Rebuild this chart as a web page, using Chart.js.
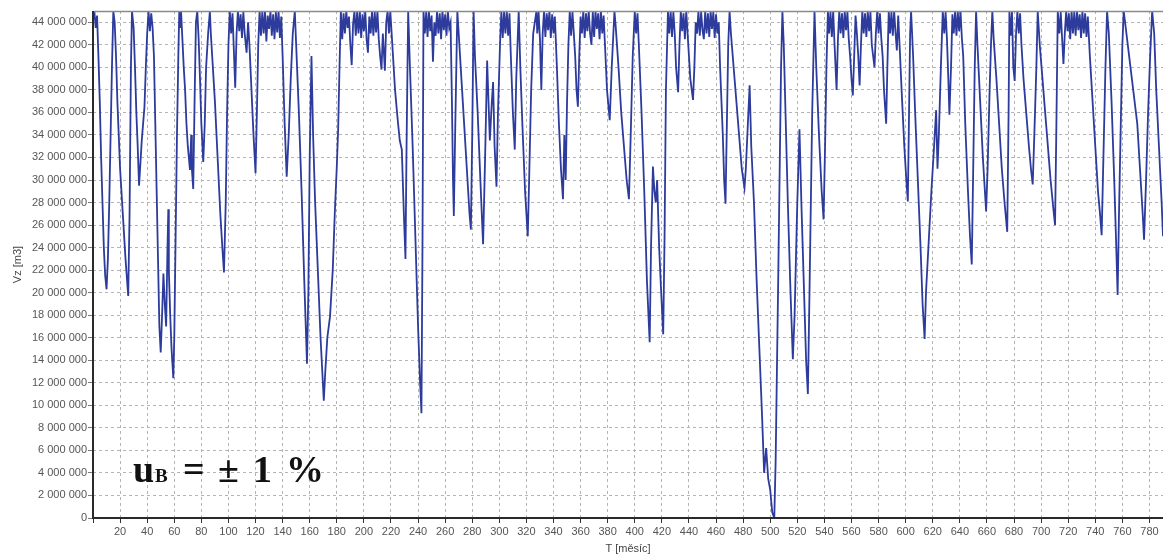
<!DOCTYPE html>
<html>
<head>
<meta charset="utf-8">
<title>Vz</title>
<script src="https://cdn.jsdelivr.net/npm/chart.js"></script>
<style>
  body { margin: 0; background: #fff; }
  #wrap { width: 1163px; height: 560px; }
</style>
</head>
<body>
<div id="wrap"><canvas id="vzChart" width="1163" height="560"></canvas></div>
<script>
// axis setup
const xTitle = 'T [měsíc]';
const yTitle = 'Vz [m3]';
const xMax = 790;
const xStep = 20;
const yMax = 45000000;
const yTickValues = [0, 2000000, 4000000, 6000000, 8000000, 10000000, 12000000, 14000000,
    16000000, 18000000, 20000000, 22000000, 24000000, 26000000, 28000000, 30000000,
    32000000, 34000000, 36000000, 38000000, 40000000, 42000000, 44000000];

// [month, volume in millions of m3]
const monthVolume = [
  [0,44.2],[1,45],[2,43.5],[3,44.6],[4,41],[5,37],[6,32],[7,28],[8,24],[9,21.5],[10,20.3],[11,23],[12,28],[13,34],[14,40],[15,45],[16,44],[17,41],[18,37],[19,34],[20,31],[22,27],[24,23],[26,19.7],[27,27],[28,40],[28.8,45],[30,43.5],[31,40],[32,36],[33,33],[34,29.5],[35,31.5],[36,33.5],[37,35],[38,36.5],[39,40],[40,43],[41,45],[42,43.2],[43,44.8],[44,43.5],[45,41],[46,35],[47,29],[48,23],[49,17],[50,14.7],[51,18],[52,21.7],[53,19],[54,17],[55,24],[55.6,27.4],[56,22],[57,18],[58,15],[59.3,12.4],[60,16],[61,25],[62,34],[63,41],[63.7,45],
  [64.5,43.5],[65,45],[66,42.5],[67,40],[68,38],[69,35],[70,33],[71.6,30.9],[72.5,34],[73,31],[74,29.2],[75,37],[76,44],[77,45],[78,42.5],[79,39],[80,35],[81.4,31.6],[82.5,35],[83.5,40],[85,43],[86.3,45],[87,43],[88,41],[90,37],[92,32],[94,27],[95.5,24],[96.7,21.8],[98,28],[99,36],[100,42],[101,45],[102,43],[103,44.8],[104,41.5],[105,38.2],[106,43],[107,45],[108,43.2],[109,44.7],[110,42.6],[111,44.9],[112,43],[113.4,41.3],[114.5,44],[115.5,42],[117,38],[118.5,34],[120,30.6],[121,36],[122,42],[123,45],[124,42.8],[125,44.9],[126,43],[127,45],[128,42.3],[129,44.6],[130,43.4],[131,45],[132,42.8],[133,44.7],[134,42.5],[135,44.9],[136,43.1],[137,45],[138,42.6],[139,44.5],[140,41],[141.5,35],[143,30.3],[144.5,34],[146,39],[147.5,43],[149,45],[150,42],[152,36],[154,29],[156,21],[158,13.7],[159,20],[160,32],[161.3,41],[162.5,34],[164,28],[166,22],[168,16],[170.4,10.4],[171.5,13],[173,16],[175,17.9],[177,22],[178.5,27],[180,31.2],[181,34.5],[182,40],[183,45],
  [184,42.5],[185,44.8],[186,43],[187,45],[188,43.5],[189,44.5],[190,42],[191,40.2],[192,43.8],[193,45],[194,42.8],[195,44.9],[196,43],[197,45],[198,42.6],[199,44.7],[200,43.2],[201,45],[202,42.5],[203,41.3],[204,44.5],[205,43],[206,45],[207,42.8],[208,44.9],[209,43.1],[210,45],[211,42.5],[212,41],[213,39.8],[214,43],[215.5,39.7],[216.5,44],[217.5,45],[218.5,43],[219.5,45],[221,42],[223,38],[225,35.3],[226.5,33.5],[228,32.7],[229.5,27],[230.7,23],[231.5,33],[232.7,45],[234,40],[236,33],[238,25],[240,17],[241.5,12],[242.5,9.3],[243.3,25],[244,45],
  [245,43],[246,44.9],[247,42.7],[248,45],[249,43.2],[250,44.6],[251,40.5],[252,44],[253,42.8],[254,45],[255,43],[256,44.8],[257,42.5],[258,45],[259,43.3],[260,44.7],[261,42.8],[262,45],[263,43.5],[264,44],[265,37],[265.8,30],[266.4,26.8],[267.5,35],[269,45],[270,43],[272,39],[274,35],[276,31],[278,27],[279,25.6],[280,34],[281,45],[282,41],[284,36],[286,30],[288,24.3],[289.5,32],[291,40.6],[292,37],[293,33.5],[294.5,37],[295.4,38.7],[296.5,33],[297.9,29.4],[299,36],[300.5,42],[301.5,45],[302.5,42.6],[303.5,44.9],[304.5,43],[305.5,45],[306.5,42.8],[307.5,44.8],[308.5,41],[310,36],[311.4,32.7],[312.5,39],[314.3,45],[315.5,40],[317,35],[319,29],[321,25],[322,30],[323.5,38],[325,43],[327.4,45],
  [328,43],[329,44.9],[330,42.5],[331,38],[332,43],[333,45],[334,42.7],[335,44.8],[336,43.3],[337,45],[338,42.6],[339,44.7],[340,43],[341,44.5],[342.5,40],[344,35],[345.5,31],[347,28.3],[348,34],[349,30],[350,37],[351,42],[352,45],[353,42.8],[354,44.9],[355,43],[356,41],[357,38],[358,36.5],[359,41],[360,44.5],[361,43],[362,45],[363,42.6],[364,44.8],[365,43.2],[366,45],[367,43],[368,42],[369,44.9],[370,42.7],[371,45],[372,43.4],[373,44.8],[374,42.5],[375,45],[376,43],[377,44.6],[378,42],[379.5,38],[381.5,35.3],[383,40],[385,45],[386,43.5],[388,40],[390,36],[392,33],[394,30],[395.7,28.3],[397,34],[398.5,41],[400,45],[401,43],[402,44.8],[403,42],[405,36],[407,29],[409,21],[411,15.6],[412,24],[413.4,31.2],[414.5,29],[415.5,28],[416.5,30],[418,24],[419.5,20],[421,16.3],[422,25],[423,38],[424.5,45],
  [425.5,43],[426.5,45],[427.5,42.7],[428.5,44.9],[429.5,43],[430.5,40],[432,37.8],[433,42],[434,45],[435,43.2],[436,44.8],[437,42.5],[438,45],[439,43],[440,41],[441,39],[443,37.1],[444,40],[445,44],[446,43],[447,45],[448,42.8],[449,44.9],[450,43.3],[451,42.5],[452,45],[453,43],[454,44.8],[455,42.7],[456,45],[457,43.4],[458,44.9],[459,42.6],[460,44.7],[461,43],[462,44],[463,40],[465,34],[466,30],[467,27.9],[468,35],[469,42],[470,45],[471,43],[473,40],[475,37],[477,34],[479,31],[481,29.3],[482,31],[483.5,35],[484.8,38.4],[486,33],[488,28],[490,21],[492,15],[494,9],[495.5,4],[497,6.2],[498.5,3.5],[500,2.5],[501.5,0.5],[503,0],[504,5],[506,22],[508,40],[509,45],
  [510,42],[511.5,35],[513,28],[515,20],[516.7,14.1],[518,18],[520,28],[521.6,34.5],[523,28],[525,20],[526.5,14],[527.8,11],[529,20],[531,36],[532.7,45],[534,40],[536,34],[538,29],[539.4,26.5],[540.5,33],[541.5,40],[542.6,45],[543.5,43],[544.5,44.9],[545.5,42.7],[546.5,45],[547.5,42],[549,38],[550,42.5],[551,45],[552,43],[553,44.8],[554,42.6],[555,45],[556,43.3],[557,44.9],[558,42.5],[559,41],[560,39],[561,37.5],[562,41],[563,44.6],[564,43],[565,41],[566,38.4],[567,42],[568,45],[569,43],[570,44.8],[571,42.7],[572,45],[573,43.2],[574,44.9],[575,42],[576,41],[577,40],[578,43],[579,45],[580,43],[581,44.8],[582,42.6],[583,41],[584,38],[585.6,35],[586.5,40],[587.5,45],[588.5,43],[589.5,44.9],[590.5,42.8],[591.5,45],[592.5,43.1],[593.5,41.5],[594.5,44.6],[595.5,42],[597,38],[599,33],[600.5,30],[601.6,28.1],[602.5,36],[603.3,43],[604,45],[605.5,41],[607,36],[609,30],[611,24],[612.5,19],[614,15.9],[615,20],[617,24.5],[619,29],[621,33],[622.5,36.2],[623.5,31],[624.5,34],[626,40],[627.4,45],
  [628.5,43],[629.5,44.9],[630.5,42.5],[631.5,39],[632.3,35.8],[633.5,40],[634.5,44.7],[635.5,43],[636.5,45],[637.5,42.8],[638.5,44.9],[639.5,43.2],[640.5,45],[641.5,42.6],[642.5,41],[644,35],[646,29],[647.5,25],[648.8,22.5],[650,32],[651,40],[652,45],[653,42],[655,37],[657,32],[658.5,29],[659.4,27.2],[660.5,31],[662,38],[663,42],[664,45],[665,42.5],[667,39],[669,35],[671,31],[673,28],[675,25.4],[676,36],[676.6,45],[677.5,42.8],[678.5,44.9],[679.5,40],[680.5,38.8],[681.5,43],[682.5,45],[683.5,43],[684.5,44.8],[685.5,42],[687,39],[689,36],[691,33],[692.5,31],[693.8,29.6],[695,34],[696.5,40],[697.5,45],[699,42],[701,39],[703,36],[705,33],[707,30],[709,27.5],[710.3,26],[711.3,35],[712.3,45],
  [713.5,43],[714.5,44.9],[715.5,42.6],[716.5,40.3],[717.5,43],[718.5,45],[719.5,43.2],[720.5,44.8],[721.5,42.5],[722.5,45],[723.5,43],[724.5,44.9],[725.5,42.8],[726.5,45],[727.5,43.3],[728.5,44.7],[729.5,42.6],[730.5,45],[731.5,43],[732.5,44.8],[733.5,42.7],[734.5,44.5],[736,41],[738,37],[740,33],[742,29],[743.5,27],[744.7,25.1],[746,32],[747.5,40],[748.7,45],[750,43],[752,37],[754,30],[755.5,24],[756.5,19.8],[757.5,27],[759,36],[760,42],[761,45],[762,44],[764,42],[766,40],[768,38],[770,36],[771,35],[773,31],[775,27],[776,24.7],[777.5,30],[779,36],[780.5,41],[782,45],[783.5,43],[785,38],[787,33],[789,28],[790,25]
];

// thousands with spaces, like "44 000 000"
function spaced(v) {
    return String(v).replace(/\B(?=(\d{3})+(?!\d))/g, ' ');
}

// solid frame lines + the u_B note
const extras = {
    id: 'extras',
    afterDatasetsDraw(chart) {
        const ctx = chart.ctx;
        const a = chart.chartArea;
        ctx.save();
        ctx.setLineDash([]);
        // top edge, light gray
        ctx.strokeStyle = '#8a8a8a';
        ctx.lineWidth = 1.5;
        ctx.beginPath();
        ctx.moveTo(a.left, a.top + 0.5);
        ctx.lineTo(a.right, a.top + 0.5);
        ctx.stroke();
        // left and bottom axis lines, dark
        ctx.strokeStyle = '#2a2a2a';
        ctx.lineWidth = 2;
        ctx.beginPath();
        ctx.moveTo(a.left, a.top);
        ctx.lineTo(a.left, a.bottom);
        ctx.lineTo(a.right, a.bottom);
        ctx.stroke();

        ctx.fillStyle = '#111';
        ctx.textBaseline = 'alphabetic';
        ctx.font = 'bold 38px "Liberation Serif", "Times New Roman", serif';
        ctx.fillText('u', 133, 482);
        ctx.fillText('=', 183, 482);
        ctx.fillText('±', 218, 482);
        ctx.fillText('1', 253, 482);
        ctx.fillText('%', 286, 482);
        ctx.font = 'bold 19px "Liberation Serif", "Times New Roman", serif';
        ctx.fillText('B', 155, 482);
        ctx.restore();
    }
};

function drawChart() {
    const ctx = document.getElementById('vzChart').getContext('2d');
    const points = monthVolume.map(p => ({ x: p[0], y: p[1] * 1000000 }));

    new Chart(ctx, {
        type: 'line',
        data: {
            datasets: [{
                data: points,
                borderColor: '#2c3b9c',
                borderWidth: 1.8,
                pointRadius: 0,
                tension: 0,
                fill: false
            }]
        },
        options: {
            responsive: false,
            animation: false,
            layout: { padding: { top: 11, right: 0, bottom: 0, left: 0 } },
            plugins: {
                legend: { display: false },
                tooltip: { enabled: false }
            },
            scales: {
                x: {
                    type: 'linear',
                    min: 0,
                    max: xMax,
                    afterFit: s => { s.height = 42; },
                    ticks: {
                        stepSize: xStep,
                        includeBounds: false,
                        autoSkip: false,
                        maxRotation: 0,
                        padding: 2,
                        color: '#555',
                        font: { family: '"Liberation Sans", Arial, sans-serif', size: 11 },
                        callback: v => (v === 0 ? '' : v)
                    },
                    grid: {
                        color: '#b4b4b4',
                        tickLength: 5,
                        tickColor: '#333',
                        tickBorderDash: []
                    },
                    border: { display: false, dash: [3, 3] },
                    title: {
                        display: true,
                        text: xTitle,
                        color: '#444',
                        font: { family: '"Liberation Sans", Arial, sans-serif', size: 11 },
                        padding: { top: 0, bottom: 4 }
                    }
                },
                y: {
                    min: 0,
                    max: yMax,
                    afterFit: s => { s.width = 93; },
                    afterBuildTicks: s => { s.ticks = yTickValues.map(v => ({ value: v })); },
                    ticks: {
                        autoSkip: false,
                        padding: 1,
                        color: '#555',
                        font: { family: '"Liberation Sans", Arial, sans-serif', size: 11 },
                        callback: v => spaced(v)
                    },
                    grid: {
                        color: '#b4b4b4',
                        tickLength: 5,
                        tickColor: '#777',
                        tickBorderDash: []
                    },
                    border: { display: false, dash: [3, 3] },
                    title: {
                        display: true,
                        text: yTitle,
                        color: '#444',
                        font: { family: '"Liberation Sans", Arial, sans-serif', size: 11 },
                        padding: { top: 11, bottom: 0 }
                    }
                }
            }
        },
        plugins: [extras]
    });
}

document.addEventListener('DOMContentLoaded', function () {
    drawChart();
});
</script>
</body>
</html>
